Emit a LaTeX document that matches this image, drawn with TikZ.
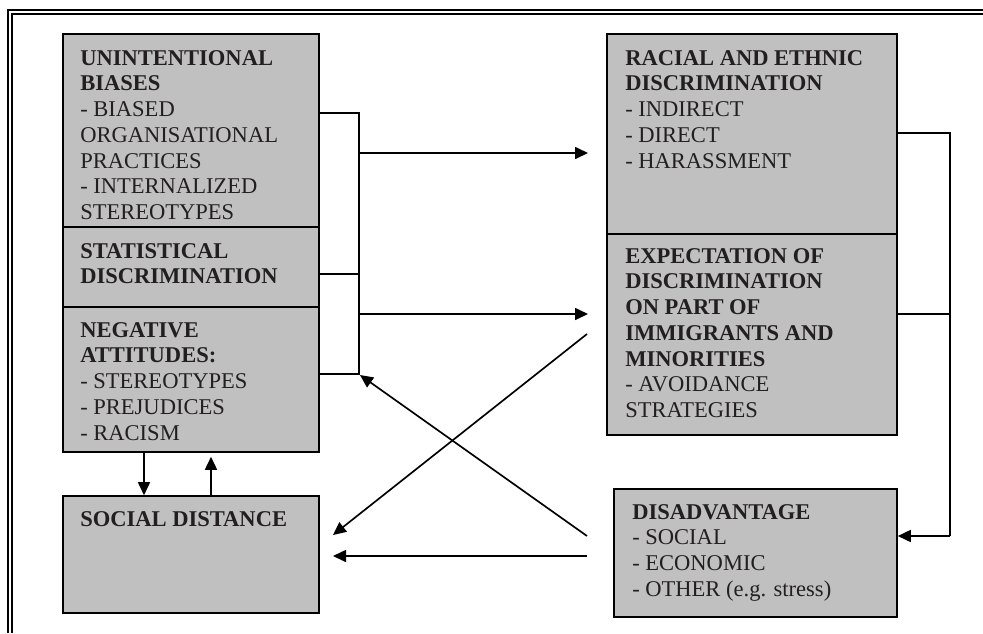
\documentclass[tikz,border=0pt]{standalone}
\usepackage{fontspec}
\setmainfont{Liberation Serif}
\usetikzlibrary{arrows.meta,fit}
\definecolor{boxgray}{RGB}{192,192,192}
\definecolor{ink}{RGB}{35,31,32}
\begin{document}
\begin{tikzpicture}[x=0.75pt,y=-0.75pt,
  box/.style={draw=black,line width=1.2pt,fill=boxgray,inner sep=0pt},
  txt/.style={anchor=north west,inner sep=0pt,align=left,text=ink,
    font=\fontsize{16.9pt}{19.3pt}\selectfont},
  conn/.style={line width=1.25pt},
  arr/.style={conn,-{Triangle[length=9.75pt,width=9pt]}},
  frameline/.style={line width=1.4pt}]
\useasboundingbox (0,0) rectangle (983,633);
% frame
\draw[frameline] (983,10) -- (8,10) -- (8,633);
\draw[frameline] (983,14.3) -- (11.8,14.3) -- (11.8,633);
% boxes
\node[box,fit={(63,34) (319,227)}] (ub) {};
\node[box,fit={(63,227) (319,307)}] (sd) {};
\node[box,fit={(63,307) (319,452)}] (na) {};
\node[box,fit={(63,496) (319,613)}] (so) {};
\node[box,fit={(607,34) (897,234)}] (re) {};
\node[box,fit={(607,234) (897,435)}] (ex) {};
\node[box,fit={(614,489) (897,617)}] (di) {};
% texts
\node[txt] (ubt) at (80,50) {\textbf{UNINTENTIONAL}\\\textbf{BIASES}\\- BIASED\\ORGANISATIONAL\\PRACTICES\\- INTERNALIZED\\STEREOTYPES};
\node[txt] (sdt) at (80,243) {\textbf{STATISTICAL}\\\textbf{DISCRIMINATION}};
\node[txt] (nat) at (80,322) {\textbf{NEGATIVE}\\\textbf{ATTITUDES:}\\- STEREOTYPES\\- PREJUDICES\\- RACISM};
\node[txt] (sot) at (80,511) {\textbf{SOCIAL DISTANCE}};
\node[txt] (ret) at (625,50) {\textbf{RACIAL AND ETHNIC}\\\textbf{DISCRIMINATION}\\- INDIRECT\\- DIRECT\\- HARASSMENT};
\node[txt] (ext) at (625,248) {\textbf{EXPECTATION OF}\\\textbf{DISCRIMINATION}\\\textbf{ON PART OF}\\\textbf{IMMIGRANTS AND}\\\textbf{MINORITIES}\\- AVOIDANCE\\STRATEGIES};
\node[txt] (dit) at (632,504) {\textbf{DISADVANTAGE}\\- SOCIAL\\- ECONOMIC\\- OTHER (e.g. stress)};
% coordinates
\coordinate (b1) at (359,113);
\coordinate (b2) at (359,274);
\coordinate (b3) at (359,374);
\coordinate (a1) at (359,153);
\coordinate (a2) at (359,314);
\coordinate (t1) at (588,153);
\coordinate (t2) at (588,314);
\coordinate (r1) at (950,133);
\coordinate (r2) at (950,314);
\coordinate (r3) at (950,536);
\coordinate (d1) at (587,334);
\coordinate (d1e) at (333,535);
\coordinate (d2) at (587,536);
\coordinate (d2e) at (360,375);
\coordinate (d3) at (587,556);
\coordinate (d3e) at (333,556);
% left bracket
\draw[conn] (ub.east |- b1) -- (b1) -- (b3) -- (na.east |- b3);
\draw[conn] (sd.east |- b2) -- (b2);
\draw[arr] (a1) -- (t1);
\draw[arr] (a2) -- (t2);
% right bracket
\draw[conn] (re.east |- r1) -- (r1) -- (r3);
\draw[conn] (ex.east |- r2) -- (r2);
\draw[arr] (r3) -- (di.east |- r3);
% crossing and horizontal arrows
\draw[arr] (d1) -- (d1e);
\draw[arr] (d2) -- (d2e);
\draw[arr] (d3) -- (d3e);
% vertical arrows between left boxes
\draw[arr] (na.south -| 144,0) -- (so.north -| 144,0);
\draw[arr] (so.north -| 211,0) -- ([yshift=-3pt]na.south -| 211,0);
\end{tikzpicture}
\end{document}
